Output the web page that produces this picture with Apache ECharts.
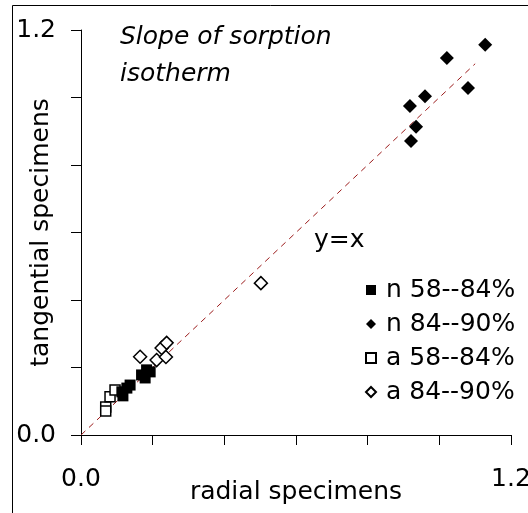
<!DOCTYPE html>
<html>
<head>
<meta charset="utf-8">
<script src="https://cdn.jsdelivr.net/npm/echarts@6/dist/echarts.min.js"></script>
<style>
  html, body { margin: 0; padding: 0; background: #fff; }
  #chart { width: 528px; height: 513px; }
</style>
</head>
<body>
<div id="chart"></div>
<script>
// series names (legend order)
const seriesNames = ["n 58--84%", "n 84--90%", "a 58--84%", "a 84--90%"];

// [radial, tangential]
const n5884 = [[0.114, 0.128], [0.128, 0.139], [0.137, 0.148], [0.117, 0.116],
  [0.169, 0.178], [0.183, 0.193], [0.193, 0.187], [0.179, 0.169]];
const n8490 = [[1.128, 1.156], [1.021, 1.117], [0.960, 1.004], [1.080, 1.028],
  [0.918, 0.975], [0.935, 0.913], [0.921, 0.871]];
const a5884 = [[0.069, 0.083], [0.069, 0.071], [0.081, 0.113], [0.095, 0.133]];
const a8490 = [[0.165, 0.232], [0.211, 0.222], [0.225, 0.258], [0.239, 0.273],
  [0.237, 0.231], [0.502, 0.450]];

// y = x reference line
const identityLine = [[0, 0], [1.1, 1.1]];

const axisMin = 0;
const axisMax = 1.2;
const axisStep = 0.2;

const font = "DejaVu Sans";

function endLabel(v) {
  if (Math.abs(v - axisMin) < 1e-6 || Math.abs(v - axisMax) < 1e-6) return v.toFixed(1);
  return "";
}

const chart = echarts.init(document.getElementById("chart"));

const option = {
  animation: false,
  backgroundColor: "#fff",
  grid: { left: 81, right: 17, top: 30, bottom: 78, containLabel: false, outerBoundsMode: "none" },
  title: {
    text: "Slope of sorption\nisotherm",
    left: 115,
    top: 14,
    textStyle: {
      fontFamily: font,
      fontSize: 25,
      fontStyle: "italic",
      fontWeight: "normal",
      color: "#000",
      lineHeight: 37,
    },
  },
  graphic: [
    {
      type: "rect",
      shape: { x: 12.5, y: 5.5, width: 700, height: 700 },
      style: { fill: "none", stroke: "#000", lineWidth: 1 },
      silent: true,
    },
    {
      type: "text",
      left: 314,
      top: 228,
      style: { text: "y=x", fontFamily: font, fontSize: 25, fill: "#000" },
    },
  ],
  legend: {
    orient: "vertical",
    left: 360,
    top: 270,
    itemGap: 4,
    itemWidth: 10,
    itemHeight: 10,
    selectedMode: false,
    textStyle: {
      fontFamily: font,
      fontSize: 25,
      color: "#000",
      lineHeight: 30,
      padding: [0, 0, 0, 5],
    },
    data: [
      { name: seriesNames[0], icon: "rect" },
      { name: seriesNames[1], icon: "diamond" },
      { name: seriesNames[2], icon: "rect" },
      { name: seriesNames[3], icon: "diamond" },
    ],
  },
  xAxis: {
    type: "value",
    min: axisMin,
    max: axisMax,
    interval: axisStep,
    name: "radial specimens",
    nameLocation: "middle",
    nameGap: 45,
    nameMoveOverlap: false,
    nameTextStyle: { fontFamily: font, fontSize: 25, color: "#000" },
    axisLine: { lineStyle: { color: "#000", width: 1 } },
    axisTick: { show: true, length: 10, lineStyle: { color: "#000" } },
    axisLabel: {
      formatter: endLabel,
      margin: 32,
      fontFamily: font,
      fontSize: 25,
      color: "#000",
      showMaxLabel: true,
      showMinLabel: true,
    },
    splitLine: { show: false },
  },
  yAxis: {
    type: "value",
    min: axisMin,
    max: axisMax,
    interval: axisStep,
    name: "tangential specimens",
    nameLocation: "middle",
    nameGap: 27,
    nameMoveOverlap: false,
    nameTextStyle: { fontFamily: font, fontSize: 25, color: "#000" },
    axisLine: { show: true, lineStyle: { color: "#000", width: 1 } },
    axisTick: { show: true, length: 10, lineStyle: { color: "#000" } },
    axisLabel: {
      formatter: endLabel,
      margin: 25,
      fontFamily: font,
      fontSize: 25,
      color: "#000",
    },
    splitLine: { show: false },
  },
  series: [
    {
      name: "y=x",
      type: "line",
      data: identityLine,
      symbol: "none",
      silent: true,
      z: 1,
      lineStyle: { color: "#9B1B1B", width: 1, type: [6, 5] },
    },
    {
      name: seriesNames[0],
      type: "scatter",
      data: n5884,
      symbol: "rect",
      symbolSize: 11,
      z: 3,
      itemStyle: { color: "#000", borderColor: "#000", borderWidth: 0, opacity: 1 },
    },
    {
      name: seriesNames[1],
      type: "scatter",
      data: n8490,
      symbol: "diamond",
      symbolSize: 14,
      z: 3,
      itemStyle: { color: "#000", borderColor: "#000", borderWidth: 0, opacity: 1 },
    },
    {
      name: seriesNames[2],
      type: "scatter",
      data: a5884,
      symbol: "rect",
      symbolSize: 10,
      z: 2,
      itemStyle: { color: "#fff", borderColor: "#000", borderWidth: 1.5, opacity: 1 },
    },
    {
      name: seriesNames[3],
      type: "scatter",
      data: a8490,
      symbol: "diamond",
      symbolSize: 13,
      z: 2,
      itemStyle: { color: "#fff", borderColor: "#000", borderWidth: 1.5, opacity: 1 },
    },
  ],
};

chart.setOption(option);
</script>
</body>
</html>
